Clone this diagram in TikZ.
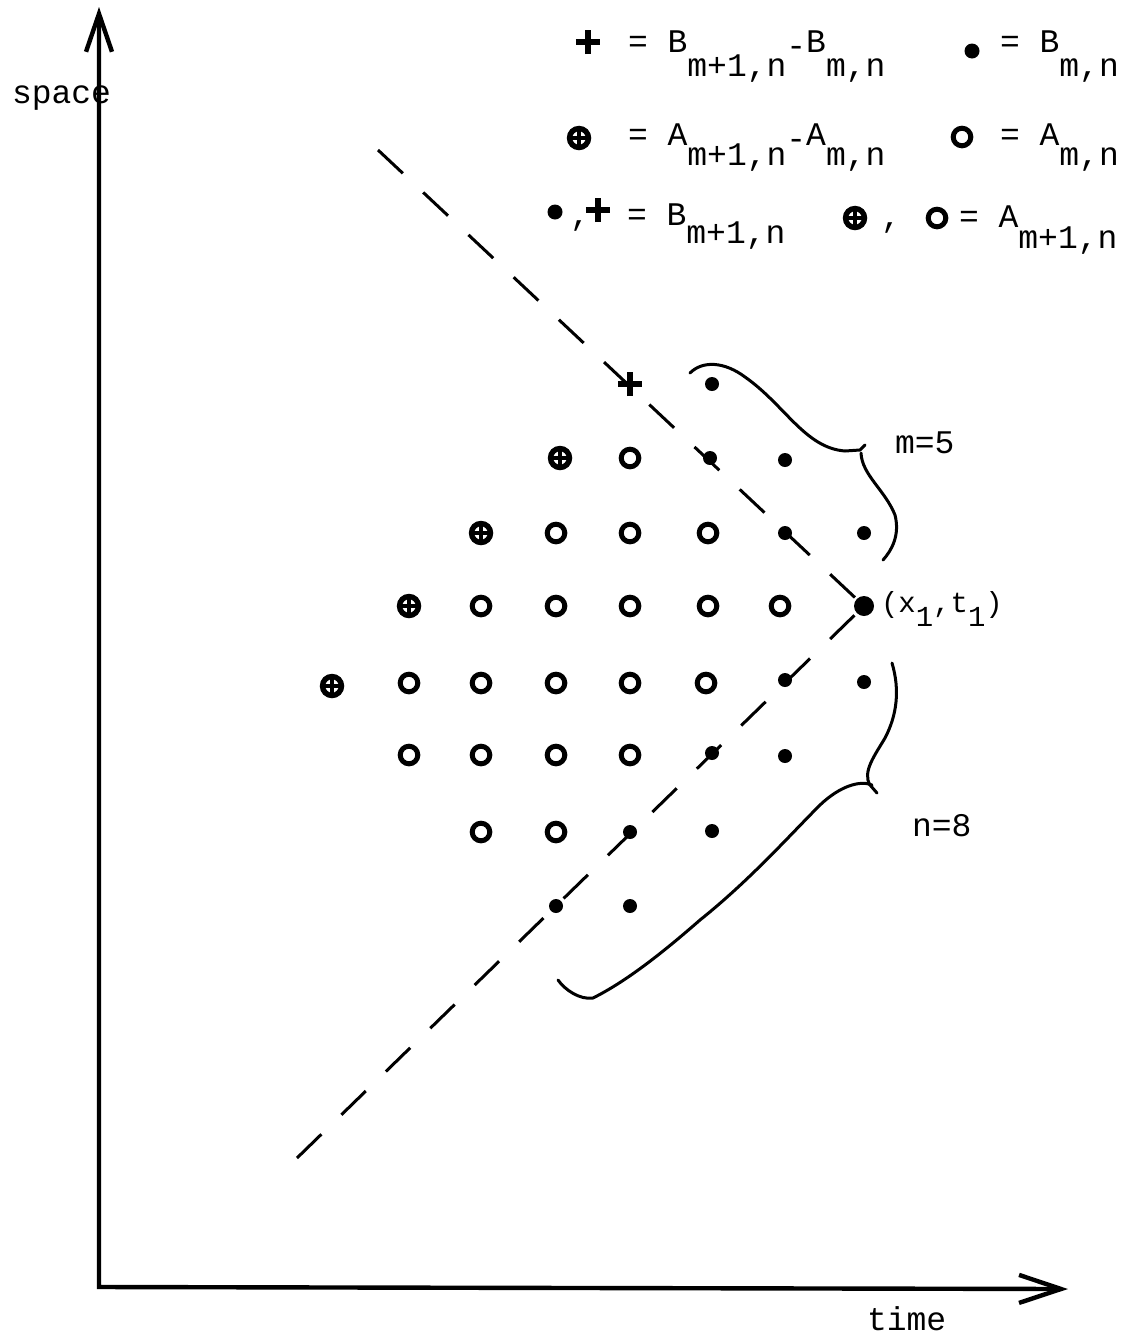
\documentclass[tikz,border=0pt]{standalone}
\usepackage{fontspec}
\setmainfont{Liberation Mono}
\usetikzlibrary{arrows.meta,shapes.misc}
\newcommand{\lo}[2][12pt]{\raisebox{-#1}{#2}}
\newcommand{\mn}{\raisebox{-2pt}{-}}
\newcommand{\los}[1]{\raisebox{-7pt}{#1}}
\begin{document}
\begin{tikzpicture}[x=0.5pt,y=-0.5pt,
  every node/.style={inner sep=0pt,outer sep=0pt},
  txt/.style={font=\fontsize{16.5}{18}\selectfont,anchor=base west},
  bdot/.style={circle,fill=black,minimum size=7pt},
  bigdot/.style={circle,fill=black,minimum size=10pt},
  ring/.style={circle,draw=black,line width=2.5pt,minimum size=8.8pt},
  oplusm/.style={circle,draw=black,line width=2.7pt,minimum size=9.5pt,
    path picture={\draw[line width=2.2pt]
      (path picture bounding box.north) -- (path picture bounding box.south)
      (path picture bounding box.west) -- (path picture bounding box.east);}},
  plusm/.style={cross out,draw=black,line width=2.8pt,minimum size=8.5pt,rotate=45},
  axis/.style={line width=2.2pt,{Straight Barb[length=19pt,width=13pt]}-{Straight Barb[length=21pt,width=14pt]}},
  dashline/.style={line width=1.5pt,dash pattern=on 17pt off 14pt},
  brace/.style={line width=1.5pt,line cap=round,line join=round}]
\useasboundingbox (0,0) rectangle (1125,1339);

% axes
\coordinate (Ytip) at (99,7);
\coordinate (O) at (99,1287);
\coordinate (Xtip) at (1068,1289);
\draw[axis] (Ytip) -- (O) -- (Xtip);
\node[txt] (space) at (12,103) {space};
\node[txt] (time) at (867,1330) {time};

% legend
\node[plusm] (lg1) at (588,42) {};
\node[txt] (lt1) at (628,52) {= B\lo{m+1,n}\mn B\lo{m,n}};
\node[bdot,minimum size=7.5pt] (lg2) at (972,51) {};
\node[txt] (lt2) at (1000,52) {= B\lo{m,n}};
\node[oplusm] (lg3) at (579,138) {};
\node[txt] (lt3) at (628,145) {= A\lo[10pt]{m+1,n}\mn A\lo[10pt]{m,n}};
\node[ring] (lg4) at (962,137) {};
\node[txt] (lt4) at (1000,145) {= A\lo[10pt]{m,n}};
\node[bdot,minimum size=7.5pt] (lg5) at (555,212) {};
\node[txt] (lc5) at (570,225) {,};
\node[plusm] (lg6) at (598,210) {};
\node[txt] (lt6) at (627,225) {= B\lo[9pt]{m+1,n}};
\node[oplusm] (lg7) at (855,218) {};
\node[txt] (lc7) at (881,227) {,};
\node[ring] (lg8) at (937,218) {};
\node[txt] (lt8) at (959,227) {= A\lo[10.5pt]{m+1,n}};

% grid markers
\node[plusm] (p1) at (630,384) {};
\node[bdot] (d1a) at (712,384) {};

\node[oplusm] (q2) at (560,458) {};
\node[ring] (r2a) at (630,458) {};
\node[bdot] (d2a) at (710,458) {};
\node[bdot] (d2b) at (785,460) {};

\node[oplusm] (q3) at (481,533) {};
\foreach \x [count=\i] in {556,630,708} \node[ring] (r3-\i) at (\x,533) {};
\node[bdot] (d3a) at (785,533) {};
\node[bdot] (d3b) at (864,533) {};

\node[oplusm] (q4) at (409,606) {};
\foreach \x [count=\i] in {481,556,630,708,780} \node[ring] (r4-\i) at (\x,606) {};
\node[bigdot] (x1) at (864,606) {};

\node[oplusm] (q5) at (332,686) {};
\foreach \x [count=\i] in {409,481,556,630,706} \node[ring] (r5-\i) at (\x,683) {};
\node[bdot] (d5a) at (785,680) {};
\node[bdot] (d5b) at (864,682) {};

\foreach \x [count=\i] in {409,481,556,630} \node[ring] (r6-\i) at (\x,755) {};
\node[bdot] (d6a) at (712,753) {};
\node[bdot] (d6b) at (785,756) {};

\foreach \x [count=\i] in {481,556} \node[ring] (r7-\i) at (\x,832) {};
\node[bdot] (d7a) at (630,832) {};
\node[bdot] (d7b) at (712,831) {};

\node[bdot] (d8a) at (556,906) {};
\node[bdot] (d8b) at (630,906) {};

% dashed characteristic lines
\coordinate (u) at (378,150);
\coordinate (l) at (297,1158);
\draw[dashline] (u) -- (x1.center);
\draw[dashline] (l) -- (x1.center);

% label of vertex
\node[txt,font=\fontsize{14.5}{16}\selectfont] (xt) at (881,612) {(x\los{1},t\los{1})};

% upper brace
\draw[brace] (690,373) .. controls (703,360) and (725,362) .. (745,377)
  .. controls (785,405) and (805,448) .. (845,451) -- (860,450) -- (865,445);
\draw[brace] (861,453) .. controls (862,475) and (885,490) .. (895,515)
  .. controls (900,535) and (892,550) .. (883,560);
\node[txt] (m5) at (895,453) {m=5};

% lower brace
\draw[brace] (892,663) .. controls (900,690) and (897,715) .. (885,738)
  .. controls (875,755) and (862,772) .. (870,785) -- (877,793);
\draw[brace] (872,785) .. controls (860,780) and (840,786) .. (820,805)
  .. controls (790,835) and (750,880) .. (700,920)
  .. controls (660,955) and (625,982) .. (593,998)
  .. controls (580,1000) and (565,990) .. (558,980);
\node[txt] (n8) at (912,836) {n=8};
\end{tikzpicture}
\end{document}
